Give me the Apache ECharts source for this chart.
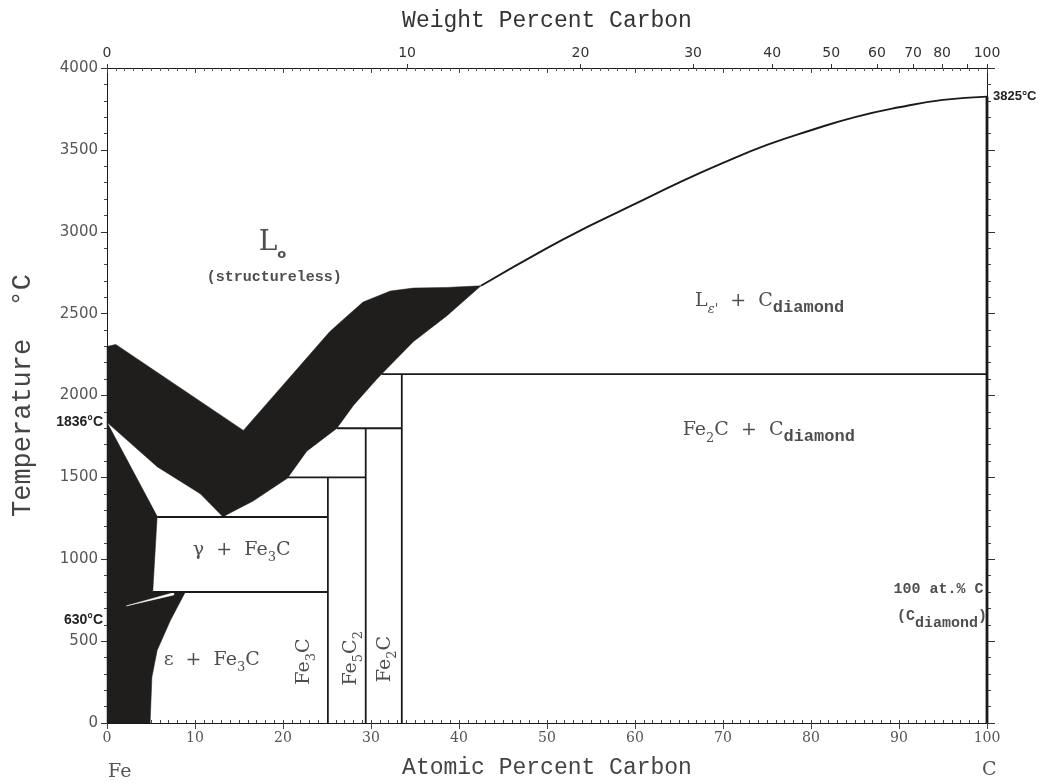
<!DOCTYPE html>
<html>
<head>
<meta charset="utf-8">
<script src="https://cdn.jsdelivr.net/npm/echarts@6/dist/echarts.min.js"></script>
<style>
html,body{margin:0;padding:0;background:#fff;}
#chart{width:1054px;height:784px;}
</style>
</head>
<body>
<div id="chart"></div>
<script>
// ---------- DATA ----------
// Top axis: weight-percent tick labels and their atomic-percent positions
const weightTickLabels = ['0','10','20','30','40','50','60','70','80','','100'];
const weightTickAtomicPos = [0, 34.1, 53.8, 66.6, 75.6, 82.3, 87.5, 91.6, 94.9, 97.7, 100];

// Black two-phase band: L + solid (upper V-shaped band), [at.% C, °C]
const liquidBand = [
  [0,2300],[1,2312],[15.5,1787],[25.3,2389],[27.3,2486],[29.1,2571],[32.2,2638],
  [34.8,2656],[38.6,2660],[42.5,2670],
  [38.6,2486],[34.8,2328],[31.8,2164],[30.7,2103],[28,1939],[26.1,1799],[22.7,1660],
  [20.5,1495],[16.6,1355],[13.6,1272],[13.2,1258],[10.6,1400],[5.7,1565],[0,1836]
];
// Black region along the Fe side
const ironSideRegion = [
  [0,1836],[5.7,1262],[5.2,800],[8.9,800],[7.2,626],[5.7,444],[5.1,280],[4.9,0],[0,0]
];
// thin white wedge inside the Fe-side region
const whiteWedge = [[2.2,715],[7.6,797],[7.6,782]];

// Liquidus curve L + C(diamond)
const liquidusCurve = [
  [42.5,2670],[50,2900],[55,3040],[60,3170],[65,3300],[70,3420],[75,3530],
  [80,3620],[85,3700],[90,3760],[95,3805],[100,3825]
];

// Phase boundary segments
const phaseLines = [
  [[31.2,2130],[100,2130]],
  [[33.5,0],[33.5,2130]],
  [[26.1,1800],[33.5,1800]],
  [[29.4,0],[29.4,1800]],
  [[20.5,1500],[29.4,1500]],
  [[25.1,0],[25.1,1500]],
  [[5.7,1258],[25.1,1258]],
  [[5.2,800],[25.1,800]]
];
const carbonLine = [[100,0],[100,3825]];

// Special temperatures
const leftSpecialTemps = [630, 1836];
const rightSpecialTemps = [3825];

// Region labels
const regionLabels = [
  {text:'{big|L}{subo|o}', at:[18.8,2936], rotate:0},
  {text:'{mono|(structureless)}', at:[19.0,2722], rotate:0},
  {text:'{ser|L}{subeps|ε\'}{ser|  +  C}{subd|diamond}', at:[75.3,2575], rotate:0},
  {text:'{ser|Fe}{subn|2}{ser|C  +  C}{subd|diamond}', at:[75.2,1787], rotate:0},
  {text:'{ser|γ  +  Fe}{subn|3}{ser|C}', at:[15.3,1055], rotate:0},
  {text:'{ser|ε  +  Fe}{subn|3}{ser|C}', at:[11.9,385], rotate:0},
  {text:'{ser|Fe}{subn|3}{ser|C}', at:[22.4,375], rotate:90},
  {text:'{ser|Fe}{subn|5}{ser|C}{subn|2}', at:[27.7,395], rotate:90},
  {text:'{ser|Fe}{subn|2}{ser|C}', at:[31.6,390], rotate:90}
];
const rightEdgeLabels = [
  {text:'{sm|100 at.% C}', at:[99.6,815]},
  {text:'{sm|(C}{subd2|diamond}{sm|)}', at:[100,650]}
];

// ---------- CHART ----------
const chart = echarts.init(document.getElementById('chart'), null, {renderer:'canvas'});
const BLACK = '#201d1d';
const LINE = '#1a1a1a';

function polygonSeries(name, pts, fill) {
  return {
    name, type:'custom', xAxisIndex:0, yAxisIndex:0, silent:true, z:2,
    data:[0],
    renderItem:(params, api) => ({
      type:'polygon',
      shape:{points: pts.map(p => api.coord(p))},
      style:{fill: fill, stroke: fill, lineWidth: 0.5}
    })
  };
}

const richStyles = {
  big:{fontFamily:'DejaVu Serif', fontSize:28, color:'#222', verticalAlign:'middle', lineHeight:38},
  subo:{fontFamily:'DejaVu Sans', fontWeight:'bold', fontSize:13, color:'#222', verticalAlign:'bottom', padding:[12,0,0,0]},
  mono:{fontFamily:'Liberation Mono', fontWeight:'bold', fontSize:15, color:'#222'},
  ser:{fontFamily:'DejaVu Serif', fontSize:19, color:'#222', verticalAlign:'middle', lineHeight:28},
  subn:{fontFamily:'DejaVu Serif', fontSize:13, color:'#222', verticalAlign:'bottom', lineHeight:28},
  subeps:{fontFamily:'DejaVu Serif', fontStyle:'italic', fontSize:13, color:'#222', verticalAlign:'bottom', lineHeight:28},
  subd:{fontFamily:'Liberation Mono', fontWeight:'bold', fontSize:17, color:'#222', verticalAlign:'bottom', lineHeight:30},
  subd2:{fontFamily:'Liberation Mono', fontWeight:'bold', fontSize:15, color:'#222', verticalAlign:'bottom', lineHeight:28},
  sm:{fontFamily:'Liberation Mono', fontWeight:'bold', fontSize:15, color:'#222', verticalAlign:'middle', lineHeight:24}
};

const option = {
  backgroundColor:'#fff',
  animation:false,
  grid:{left:107, right:67, top:68, bottom:58, containLabel:false},
  xAxis:[
    { // 0: bottom main (atomic %)
      type:'value', position:'bottom', min:0, max:100, interval:10,
      name:'Atomic Percent Carbon', nameLocation:'middle', nameGap:33,
      nameTextStyle:{fontFamily:'Liberation Mono', fontSize:23, color:'#444'},
      axisLine:{onZero:false, lineStyle:{color:LINE, width:1}},
      axisTick:{show:true, inside:false, length:6, lineStyle:{color:'#444'}},
      axisLabel:{fontFamily:'DejaVu Serif', fontSize:14, color:'#555', margin:8},
      splitLine:{show:false}
    },
    { // 1: bottom fine ticks
      type:'value', position:'bottom', min:0, max:100, interval:1,
      axisLine:{show:false, onZero:false},
      axisTick:{show:true, inside:true, length:3, lineStyle:{color:'#444', width:1}},
      axisLabel:{show:false}, splitLine:{show:false}
    },
    { // 2: top weight-percent labels
      type:'value', position:'top', min:0, max:100,
      name:'Weight Percent Carbon', nameLocation:'middle', nameGap:36,
      nameTextStyle:{fontFamily:'Liberation Mono', fontSize:23, color:'#333'},
      axisLine:{show:true, onZero:false, lineStyle:{color:LINE, width:1}},
      axisTick:{show:true, inside:false, length:4, customValues:weightTickAtomicPos, lineStyle:{color:'#333'}},
      axisLabel:{show:true, customValues:weightTickAtomicPos, margin:8,
        fontFamily:'DejaVu Sans', fontSize:14, color:'#333',
        formatter:(v) => {
          const i = weightTickAtomicPos.findIndex(p => Math.abs(p - v) < 1e-6);
          return i >= 0 ? weightTickLabels[i] : '';
        }},
      splitLine:{show:false}
    },
    { // 3: top fine ticks
      type:'value', position:'top', min:0, max:100, interval:10,
      axisLine:{show:false, onZero:false},
      axisTick:{show:true, inside:true, length:5, lineStyle:{color:'#444'}},
      minorTick:{show:true, splitNumber:10, length:3, lineStyle:{color:'#555'}},
      axisLabel:{show:false}, splitLine:{show:false}
    }
  ],
  yAxis:[
    { // 0: left main
      type:'value', position:'left', min:0, max:4000, interval:500,
      name:'Temperature  °C', nameLocation:'middle', nameGap:71, nameRotate:90,
      nameTextStyle:{fontFamily:'Liberation Mono', fontSize:27, color:'#444'},
      axisLine:{show:true, onZero:false, lineStyle:{color:LINE, width:1}},
      axisTick:{show:true, inside:false, length:6, lineStyle:{color:'#333'}},
      minorTick:{show:true, splitNumber:5, length:3, lineStyle:{color:'#444'}},
      axisLabel:{fontFamily:'DejaVu Sans', fontSize:15, color:'#555', margin:9,
        formatter:(v) => String(v)},
      splitLine:{show:false}
    },
    { // 1: left special temperatures
      type:'value', position:'left', min:0, max:4000,
      axisLine:{show:false, onZero:false}, axisTick:{show:false},
      axisLabel:{show:true, customValues:leftSpecialTemps, margin:4,
        fontFamily:'Liberation Sans', fontWeight:'bold', fontSize:14, color:'#222',
        formatter:(v) => v + '°C'},
      splitLine:{show:false}
    },
    { // 2: right frame with ticks
      type:'value', position:'right', min:0, max:4000, interval:500,
      axisLine:{show:true, onZero:false, lineStyle:{color:LINE, width:1}},
      axisTick:{show:true, inside:false, length:8, lineStyle:{color:'#333'}},
      minorTick:{show:true, splitNumber:5, length:4, lineStyle:{color:'#444'}},
      axisLabel:{show:false}, splitLine:{show:false}
    },
    { // 3: right special temperature
      type:'value', position:'right', min:0, max:4000,
      axisLine:{show:false, onZero:false}, axisTick:{show:false},
      axisLabel:{show:true, customValues:rightSpecialTemps, margin:6,
        fontFamily:'Liberation Sans', fontWeight:'bold', fontSize:13, color:'#222',
        formatter:(v) => v + '°C'},
      splitLine:{show:false}
    }
  ],
  series:[
    polygonSeries('L + solid band', liquidBand, BLACK),
    polygonSeries('Fe-side region', ironSideRegion, BLACK),
    polygonSeries('wedge', whiteWedge, '#ffffff'),
    {
      name:'phase lines', type:'custom', xAxisIndex:0, yAxisIndex:0, silent:true, z:3,
      data: phaseLines.map((_, i) => i),
      renderItem:(params, api) => {
        const seg = phaseLines[params.dataIndex];
        return {type:'polyline', shape:{points: seg.map(p => api.coord(p))},
                style:{stroke:LINE, lineWidth:1.8, fill:null}};
      }
    },
    {
      name:'liquidus', type:'line', xAxisIndex:0, yAxisIndex:0, data:liquidusCurve,
      smooth:true, symbol:'none', lineStyle:{color:LINE, width:1.9}, z:3, silent:true
    },
    {
      name:'carbon', type:'line', xAxisIndex:0, yAxisIndex:0, data:carbonLine,
      symbol:'none', lineStyle:{color:LINE, width:2.8}, z:3, silent:true
    },
    {
      name:'labels', type:'scatter', xAxisIndex:0, yAxisIndex:0, symbolSize:0, silent:true, z:5,
      data: regionLabels.map(r => ({
        value:r.at,
        label:{show:true, position:'inside', formatter:r.text, rotate:r.rotate, rich:richStyles}
      }))
    },
    {
      name:'edge labels', type:'scatter', xAxisIndex:0, yAxisIndex:0, symbolSize:0, silent:true, z:5,
      data: rightEdgeLabels.map(r => ({
        value:r.at,
        label:{show:true, position:'left', distance:0, formatter:r.text, rich:richStyles}
      }))
    }
  ],
  graphic:[
    {type:'text', left:108, top:763, style:{text:'Fe', fontFamily:'DejaVu Serif', fontSize:19, fill:'#555'}},
    {type:'text', left:982, top:761, style:{text:'C', fontFamily:'DejaVu Serif', fontSize:19, fill:'#555'}}
  ]
};
chart.setOption(option);
</script>
</body>
</html>
